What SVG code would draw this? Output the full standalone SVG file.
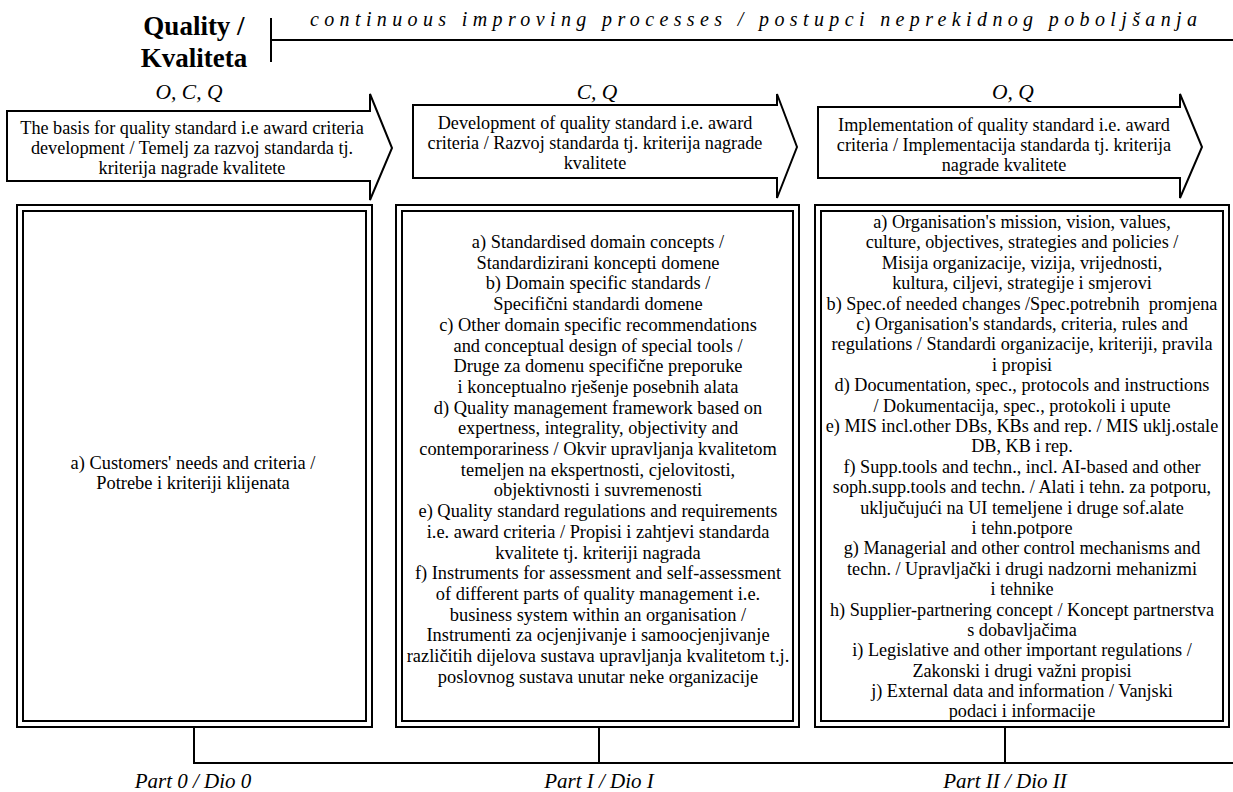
<svg xmlns="http://www.w3.org/2000/svg" width="1233" height="792" viewBox="0 0 1233 792">
<style>
  .t { font-family: "Liberation Serif", "Times New Roman", serif; font-size: 18.4px; fill: #000; text-anchor: middle; }
  .t3 { font-size: 18.2px; }
  .it { font-family: "Liberation Serif", "Times New Roman", serif; font-style: italic; fill: #000; text-anchor: middle; }
  .title { font-family: "Liberation Serif", "Times New Roman", serif; font-weight: bold; font-size: 27px; fill: #000; text-anchor: middle; }
  .ln { stroke: #000; stroke-width: 2; fill: none; }
  .arrow { stroke: #000; stroke-width: 2; fill: #fff; stroke-linejoin: miter; }
  .box { stroke: #000; stroke-width: 2; fill: #fff; }
</style>
<rect width="1233" height="792" fill="#fff"/>

<g id="header">
  <text class="title" x="194" y="35">Quality /</text>
  <text class="title" x="194" y="67">Kvaliteta</text>
  <line class="ln" x1="271" y1="18" x2="271" y2="62"/>
  <line class="ln" x1="271" y1="40" x2="1233" y2="40"/>
  <text class="it" x="310" y="26" font-size="20" style="text-anchor:start" textLength="887" lengthAdjust="spacing">continuous improving processes / postupci neprekidnog poboljšanja</text>
</g>

<g id="arrow0">
  <text class="it" x="189" y="99" font-size="21.5">O, C, Q</text>
  <polygon class="arrow" points="7,111 370,111 370,94 392,148 370,200 370,181 7,181"/>
  <text class="t t3" x="192" y="134">The basis for quality standard i.e award criteria</text>
  <text class="t t3" x="192" y="154">development / Temelj za razvoj standarda tj.</text>
  <text class="t t3" x="192" y="174">kriterija nagrade kvalitete</text>
</g>

<g id="arrow1">
  <text class="it" x="597" y="99" font-size="21.5">C, Q</text>
  <polygon class="arrow" points="413,105 777,105 777,94 797,147 777,198 777,178 413,178"/>
  <text class="t t3" x="595" y="129">Development of quality standard i.e. award</text>
  <text class="t t3" x="595" y="149">criteria / Razvoj standarda tj. kriterija nagrade</text>
  <text class="t t3" x="595" y="169">kvalitete</text>
</g>

<g id="arrow2">
  <text class="it" x="1013" y="99" font-size="21.5">O, Q</text>
  <polygon class="arrow" points="818,107 1180,107 1180,94 1202,147 1180,198 1180,178 818,178"/>
  <text class="t t3" x="1004" y="131">Implementation of quality standard i.e. award</text>
  <text class="t t3" x="1004" y="151">criteria / Implementacija standarda tj. kriterija</text>
  <text class="t t3" x="1004" y="171">nagrade kvalitete</text>
</g>

<g id="box0">
  <rect class="box" x="17" y="205" width="355" height="522"/>
  <rect class="box" x="23" y="211" width="343" height="510"/>
  <text class="t" x="193" y="469">a) Customers' needs and criteria /</text>
  <text class="t" x="193" y="489">Potrebe i kriteriji klijenata</text>
</g>

<g id="box1">
  <rect class="box" x="396" y="205" width="403" height="522"/>
  <rect class="box" x="402" y="211" width="391" height="510"/>
  <text class="t" x="598" y="248">a) Standardised domain concepts /</text>
  <text class="t" x="598" y="268.7">Standardizirani koncepti domene</text>
  <text class="t" x="598" y="289.4">b) Domain specific standards /</text>
  <text class="t" x="598" y="310.1">Specifični standardi domene</text>
  <text class="t" x="598" y="330.8">c) Other domain specific recommendations</text>
  <text class="t" x="598" y="351.5">and conceptual design of special tools /</text>
  <text class="t" x="598" y="372.2">Druge za domenu specifične preporuke</text>
  <text class="t" x="598" y="392.9">i konceptualno rješenje posebnih alata</text>
  <text class="t" x="598" y="413.6">d) Quality management framework based on</text>
  <text class="t" x="598" y="434.3">expertness, integrality, objectivity and</text>
  <text class="t" x="598" y="455">contemporariness / Okvir upravljanja kvalitetom</text>
  <text class="t" x="598" y="475.7">temeljen na ekspertnosti, cjelovitosti,</text>
  <text class="t" x="598" y="496.4">objektivnosti i suvremenosti</text>
  <text class="t" x="598" y="517.1">e) Quality standard regulations and requirements</text>
  <text class="t" x="598" y="537.8">i.e. award criteria / Propisi i zahtjevi standarda</text>
  <text class="t" x="598" y="558.5">kvalitete tj. kriteriji nagrada</text>
  <text class="t" x="598" y="579.2">f) Instruments for assessment and self-assessment</text>
  <text class="t" x="598" y="599.9">of different parts of quality management i.e.</text>
  <text class="t" x="598" y="620.6">business system within an organisation /</text>
  <text class="t" x="598" y="641.3">Instrumenti za ocjenjivanje i samoocjenjivanje</text>
  <text class="t" x="598" y="662">različitih dijelova sustava upravljanja kvalitetom t.j.</text>
  <text class="t" x="598" y="682.7">poslovnog sustava unutar neke organizacije</text>
</g>

<g id="box2">
  <rect class="box" x="815" y="205" width="414" height="522"/>
  <rect class="box" x="821" y="211" width="402" height="510"/>
  <text class="t t3" x="1022" y="228">a) Organisation's mission, vision, values,</text>
  <text class="t t3" x="1022" y="248.4">culture, objectives, strategies and policies /</text>
  <text class="t t3" x="1022" y="268.8">Misija organizacije, vizija, vrijednosti,</text>
  <text class="t t3" x="1022" y="289.2">kultura, ciljevi, strategije i smjerovi</text>
  <text class="t t3" x="1022" y="309.6" style="white-space:pre">b) Spec.of needed changes /Spec.potrebnih  promjena</text>
  <text class="t t3" x="1022" y="330">c) Organisation's standards, criteria, rules and</text>
  <text class="t t3" x="1022" y="350.4">regulations / Standardi organizacije, kriteriji, pravila</text>
  <text class="t t3" x="1022" y="370.8">i propisi</text>
  <text class="t t3" x="1022" y="391.2">d) Documentation, spec., protocols and instructions</text>
  <text class="t t3" x="1022" y="411.6">/ Dokumentacija, spec., protokoli i upute</text>
  <text class="t t3" x="1022" y="432">e) MIS incl.other DBs, KBs and rep. / MIS uklj.ostale</text>
  <text class="t t3" x="1022" y="452.4">DB, KB i rep.</text>
  <text class="t t3" x="1022" y="472.8">f) Supp.tools and techn., incl. AI-based and other</text>
  <text class="t t3" x="1022" y="493.2">soph.supp.tools and techn. / Alati i tehn. za potporu,</text>
  <text class="t t3" x="1022" y="513.6">uključujući na UI temeljene i druge sof.alate</text>
  <text class="t t3" x="1022" y="534">i tehn.potpore</text>
  <text class="t t3" x="1022" y="554.4">g) Managerial and other control mechanisms and</text>
  <text class="t t3" x="1022" y="574.8">techn. / Upravljački i drugi nadzorni mehanizmi</text>
  <text class="t t3" x="1022" y="595.2">i tehnike</text>
  <text class="t t3" x="1022" y="615.6">h) Supplier-partnering concept / Koncept partnerstva</text>
  <text class="t t3" x="1022" y="636">s dobavljačima</text>
  <text class="t t3" x="1022" y="656.4">i) Legislative and other important regulations /</text>
  <text class="t t3" x="1022" y="676.8">Zakonski i drugi važni propisi</text>
  <text class="t t3" x="1022" y="697.2">j) External data and information / Vanjski</text>
  <text class="t t3" x="1022" y="717">podaci i informacije</text>
</g>

<g id="connectors">
  <line class="ln" x1="194" y1="727" x2="194" y2="763"/>
  <line class="ln" x1="599" y1="727" x2="599" y2="763"/>
  <line class="ln" x1="1005" y1="727" x2="1005" y2="763"/>
  <line class="ln" x1="193" y1="763" x2="1233" y2="763"/>
</g>

<g id="labels">
  <text class="it" x="193" y="788" font-size="21">Part 0 / Dio 0</text>
  <text class="it" x="599" y="788" font-size="21">Part I / Dio I</text>
  <text class="it" x="1005" y="788" font-size="21">Part II / Dio II</text>
</g>
</svg>
